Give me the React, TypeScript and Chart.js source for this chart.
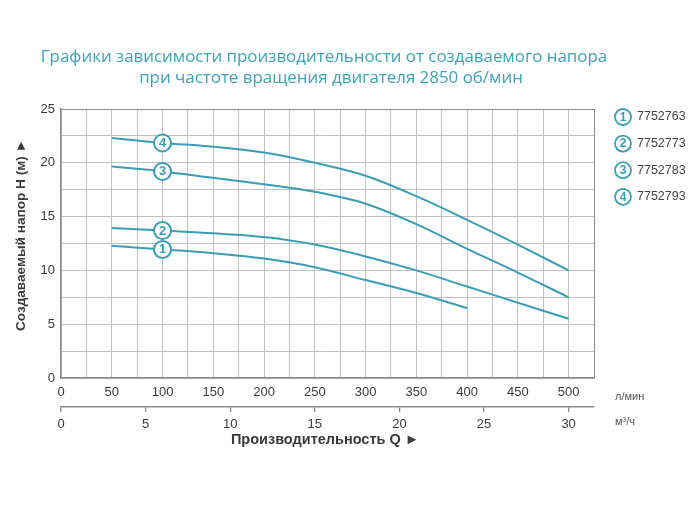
import React, { useEffect, useRef } from "react";
import { Chart, registerables } from "chart.js";

Chart.register(...registerables);

const TITLE_LINES = [
  "Графики зависимости производительности от создаваемого напора",
  "при частоте вращения двигателя 2850 об/мин",
];
const X_TITLE = "Производительность Q ►";
const Y_TITLE = "Создаваемый напор H (м) ►";
const UNIT_LPM = "л/мин";
const UNIT_M3H = "м³/ч";

const FLOW_LPM = [50, 100, 150, 200, 250, 300, 350, 400, 450, 500];
const HEAD_1 = [12.3, 11.95, 11.6, 11.1, 10.3, 9.1, 7.9, 6.5];
const HEAD_2 = [13.95, 13.7, 13.45, 13.1, 12.4, 11.3, 10.0, 8.5, 7.0, 5.5];
const HEAD_3 = [19.65, 19.2, 18.6, 18.0, 17.3, 16.2, 14.3, 12.0, 9.8, 7.5];
const HEAD_4 = [22.3, 21.85, 21.5, 20.95, 20.0, 18.8, 16.9, 14.7, 12.4, 10.0];
const MODELS = ["7752763", "7752773", "7752783", "7752793"];
const MARK_FLOW = 100;

const X_MAX_LPM = 525;
const X_LABEL_MAX = 500;
const M3H_TICKS = [0, 5, 10, 15, 20, 25, 30];
const LPM_PER_M3H = 500 / 30;
const Y_MAX = 25;

const TEAL = "#3a9db3";
const TITLE_COLOR = "#3ea2b9";
const TEXT = "#3a3a3a";
const GRID = "#c2c2c2";
const BORDER = "#8a8a8a";
const SANS = "'Liberation Sans', Arial, sans-serif";

const HEADS = [HEAD_1, HEAD_2, HEAD_3, HEAD_4];

const overlay = {
  id: "overlay",
  afterDatasetsDraw(chart: any) {
    const ctx = chart.ctx;
    ctx.save();
    ctx.textAlign = "center";
    ctx.textBaseline = "middle";
    ctx.fillStyle = TEAL;
    ctx.font = `bold 13px ${SANS}`;
    chart.data.datasets.forEach((ds: any, i: number) => {
      const meta = chart.getDatasetMeta(i);
      meta.data.forEach((pt: any, j: number) => {
        if (ds.data[j].x === MARK_FLOW) ctx.fillText(String(i + 1), pt.x, pt.y + 0.5);
      });
    });
    ctx.restore();
  },
  afterDraw(chart: any) {
    const ctx = chart.ctx;
    ctx.save();
    // title
    ctx.fillStyle = TITLE_COLOR;
    ctx.textAlign = "center";
    ctx.textBaseline = "middle";
    ctx.font = `16.9px 'Open Sans', sans-serif`;
    ctx.fillText(TITLE_LINES[0], 324, 57);
    ctx.fillText(TITLE_LINES[1], 331, 78);

    // axis titles
    ctx.fillStyle = TEXT;
    ctx.font = `bold 14.5px ${SANS}`;
    ctx.fillText(X_TITLE, 325, 440);
    ctx.save();
    ctx.translate(21, 235);
    ctx.rotate(-Math.PI / 2);
    ctx.font = `bold 13.6px ${SANS}`;
    ctx.fillText(Y_TITLE, 0, 0);
    ctx.restore();

    // units
    ctx.textAlign = "left";
    ctx.font = `11px ${SANS}`;
    ctx.fillStyle = "#555";
    ctx.fillText(UNIT_LPM, 615, 397);
    ctx.fillText(UNIT_M3H, 615, 422);

    // legend
    MODELS.forEach((m, i) => {
      const cy = 117 + i * 26.6;
      const cx = 623;
      ctx.beginPath();
      ctx.arc(cx, cy, 8, 0, Math.PI * 2);
      ctx.fillStyle = "#fff";
      ctx.fill();
      ctx.lineWidth = 1.8;
      ctx.strokeStyle = TEAL;
      ctx.stroke();
      ctx.fillStyle = TEAL;
      ctx.textAlign = "center";
      ctx.font = `bold 12px ${SANS}`;
      ctx.fillText(String(i + 1), cx, cy + 0.5);
      ctx.textAlign = "left";
      ctx.fillStyle = "#444";
      ctx.font = `12.5px ${SANS}`;
      ctx.fillText(m, 637, cy);
    });
    ctx.restore();
  },
};

export default function App() {
  const ref = useRef<HTMLCanvasElement>(null);
  useEffect(() => {
    if (!ref.current) return;
    const datasets = HEADS.map((h) => ({
      data: h.map((y, i) => ({ x: FLOW_LPM[i], y })),
      borderColor: TEAL,
      borderWidth: 2,
      cubicInterpolationMode: "monotone" as const,
      fill: false,
      pointRadius: (c: any) => (c.raw && c.raw.x === MARK_FLOW ? 8.5 : 0),
      pointHoverRadius: 0,
      pointBackgroundColor: "#fff",
      pointBorderColor: TEAL,
      pointBorderWidth: 2,
    }));
    const chart = new Chart(ref.current, {
      type: "line",
      data: { datasets },
      plugins: [overlay],
      options: {
        responsive: false,
        animation: false,
        events: [],
        layout: { padding: { left: 0, top: 109, right: 106, bottom: 60 } },
        plugins: { legend: { display: false }, tooltip: { enabled: false }, title: { display: false } },
        scales: {
          x: {
            type: "linear",
            position: "bottom",
            weight: 0,
            min: 0,
            max: X_MAX_LPM,
            ticks: {
              stepSize: 25,
              autoSkip: false,
              maxRotation: 0,
              padding: 7,
              color: TEXT,
              font: { family: SANS, size: 13 },
              callback: (v: any) => (v % 50 === 0 && v <= X_LABEL_MAX ? String(v) : ""),
            },
            grid: {
              drawTicks: false,
              lineWidth: 1,
              color: (c: any) => (c.tick && c.tick.value === X_MAX_LPM ? BORDER : GRID),
            },
            border: { color: BORDER, width: 1.5 },
            afterFit: (s: any) => {
              s.height = 29;
            },
          },
          x2: {
            type: "linear",
            position: "bottom",
            weight: 1,
            min: 0,
            max: X_MAX_LPM / LPM_PER_M3H,
            ticks: {
              autoSkip: false,
              maxRotation: 0,
              padding: 5,
              color: TEXT,
              font: { family: SANS, size: 13 },
            },
            afterBuildTicks: (s: any) => {
              s.ticks = M3H_TICKS.map((v) => ({ value: v }));
            },
            grid: { drawOnChartArea: false, drawTicks: true, tickLength: 5, color: BORDER, lineWidth: 1.3 },
            border: { color: BORDER, width: 1.5 },
            afterFit: (s: any) => {
              s.height = 39;
            },
          },
          y: {
            type: "linear",
            min: 0,
            max: Y_MAX,
            ticks: {
              stepSize: 2.5,
              padding: 6,
              color: TEXT,
              font: { family: SANS, size: 13 },
              callback: (v: any) => (v % 5 === 0 ? String(v) : ""),
            },
            grid: {
              drawTicks: false,
              lineWidth: 1,
              color: (c: any) => (c.tick && c.tick.value === Y_MAX ? BORDER : GRID),
            },
            border: { color: BORDER, width: 1.5 },
            afterFit: (s: any) => {
              s.width = 61;
            },
          },
        },
      },
    } as any);
    return () => chart.destroy();
  }, []);
  return (
    <div style={{ position: "absolute", left: 0, top: 0, width: 700, height: 506, background: "#fff" }}>
      <canvas ref={ref} width={700} height={506} style={{ display: "block" }} />
    </div>
  );
}
